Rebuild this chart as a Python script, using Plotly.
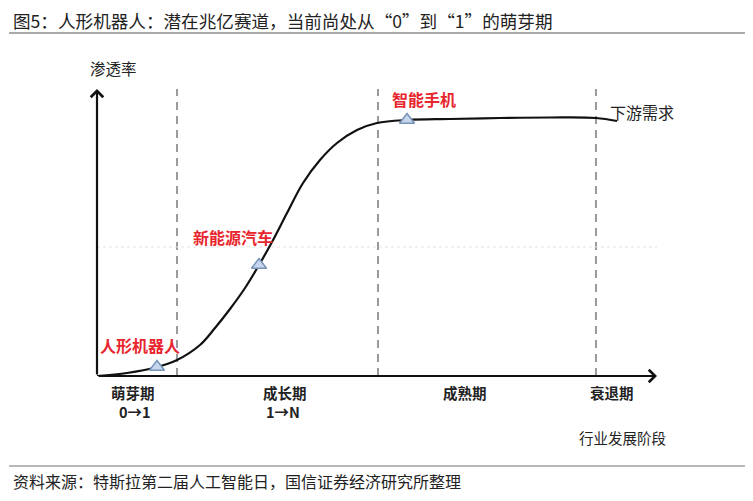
import plotly.graph_objects as go

# S-curve of penetration vs. industry stage (schematic units 0-100)
curve_x = [0, 5.36, 10.71, 14.29, 18.39, 21.07, 23.75, 26.43, 28.93, 31.25, 33.93, 36.79,
           39.82, 42.86, 46.43, 50.0, 55.36, 63.04, 71.96, 80.89, 89.11, 92.86]
curve_y = [0, 1.05, 3.14, 5.57, 10.8, 16.72, 23.34, 30.66, 38.68, 46.69, 56.79, 67.25,
           75.26, 81.18, 85.71, 88.15, 89.2, 89.55, 89.9, 90.07, 89.9, 88.85]

# industries placed on the curve
point_names = ["人形机器人", "新能源汽车", "智能手机"]
point_x = [10.71, 28.93, 55.36]
point_y = [3.14, 38.68, 89.2]
label_x = [7.68, 24.2, 58.4]
label_y = [10.8, 48.5, 96.6]

# stage boundaries and stage labels
stage_bounds = [14.29, 50.18, 89.1]
stage_names = ["萌芽期", "成长期", "成熟期", "衰退期"]
stage_x = [6.43, 33.57, 65.71, 91.96]
stage_codes = ["0→1", "1→N"]
code_x = [6.79, 33.2]

half_line = 44.95

FONT = "Noto Sans CJK SC"
RED = "#e8262d"
INK = "#222222"

fig = go.Figure()

fig.add_trace(
    go.Scatter(
        x=curve_x,
        y=curve_y,
        mode="lines",
        line={"color": "#111111", "width": 2.2, "shape": "spline", "smoothing": 1.0},
        hoverinfo="skip",
        showlegend=False,
        cliponaxis=False,
    )
)
fig.add_trace(
    go.Scatter(
        x=point_x,
        y=point_y,
        mode="markers",
        marker={"symbol": "triangle-up", "size": 13, "color": "#c6d6ec",
                "line": {"color": "#7894b8", "width": 1.5}},
        text=point_names,
        showlegend=False,
        cliponaxis=False,
    )
)

shapes = []
for xb in stage_bounds:
    shapes.append(
        dict(type="line", xref="x", yref="y", x0=xb, x1=xb, y0=0, y1=101.7,
             line={"color": "#9a9a9a", "width": 2, "dash": "8px,6px"}, layer="below")
    )
shapes.append(
    dict(type="line", xref="x", yref="y", x0=0, x1=100, y0=half_line, y1=half_line,
         line={"color": "#e2e2e2", "width": 1, "dash": "dot"}, layer="below")
)
# header / footer rules
shapes.append(dict(type="line", xref="paper", yref="paper", x0=-0.157, x1=1.157, y0=1.195, y1=1.195,
                   line={"color": "#8c8c8c", "width": 1.5}))
shapes.append(dict(type="line", xref="paper", yref="paper", x0=-0.157, x1=1.157, y0=-0.314, y1=-0.314,
                   line={"color": "#a0a0a0", "width": 1.5}))

annotations = []
# axes with arrow heads
annotations.append(dict(x=0, y=100, ax=0, ay=0, xref="x", yref="y", axref="x", ayref="y", text="",
                        showarrow=True, arrowhead=4, arrowsize=1.1, arrowwidth=2.2, arrowcolor="#111111"))
annotations.append(dict(x=100, y=0, ax=0, ay=0, xref="x", yref="y", axref="x", ayref="y", text="",
                        showarrow=True, arrowhead=4, arrowsize=1.1, arrowwidth=2.2, arrowcolor="#111111"))


def label(x, y, text, size, color=INK, xref="paper", yref="paper", xanchor="center", yanchor="middle"):
    return dict(x=x, y=y, xref=xref, yref=yref, text=text, showarrow=False,
                xanchor=xanchor, yanchor=yanchor, borderpad=0, borderwidth=0,
                font={"family": FONT, "size": size, "color": color})


for name, lx, ly in zip(point_names, label_x, label_y):
    annotations.append(label(lx, ly, f"<b>{name}</b>", 16, RED, xref="x", yref="y"))

for name, sx in zip(stage_names, stage_x):
    annotations.append(label(sx / 100, -0.059, f"<b>{name}</b>", 14.5))
for code, cx in zip(stage_codes, code_x):
    annotations.append(label(cx / 100, -0.125, f"<b>{code}</b>", 14.5))

annotations.append(label(0.0286, 1.073, "渗透率", 15.5))
annotations.append(label(0.973, 0.92, "下游需求", 16))
annotations.append(label(0.9375, -0.216, "行业发展阶段", 14.5))

annotations.append(label(-0.15, 1.281, "图5：人形机器人：潜在兆亿赛道，当前尚处从“0”到“1”的萌芽期",
                         17.6, xanchor="left", yanchor="top"))
annotations.append(label(-0.15, -0.366, "资料来源：特斯拉第二届人工智能日，国信证券经济研究所整理",
                         16, xanchor="left"))

fig.update_layout(
    width=753,
    height=501,
    margin={"l": 89, "r": 104, "t": 81, "b": 133},
    paper_bgcolor="white",
    plot_bgcolor="white",
    xaxis={"range": [0, 100], "visible": False, "fixedrange": True},
    yaxis={"range": [0, 100], "visible": False, "fixedrange": True},
    shapes=shapes,
    annotations=annotations,
    showlegend=False,
)

fig.write_html("out.html")
